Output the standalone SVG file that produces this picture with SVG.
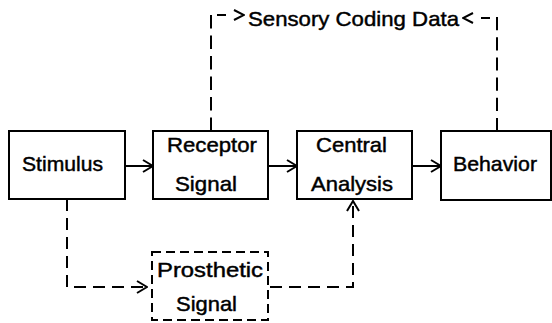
<svg xmlns="http://www.w3.org/2000/svg" width="552" height="323" viewBox="0 0 552 323">
  <style>
    .box { fill: #fff; stroke: #000; stroke-width: 2; }
    .dashbox { fill: #fff; stroke: #000; stroke-width: 2; stroke-dasharray: 9 5; }
    .lbl { font-family: "Liberation Sans", Arial, sans-serif; font-size: 21px; fill: #000; stroke: #000; stroke-width: 0.45; }
    .conn { fill: none; stroke: #000; stroke-width: 2; }
    .dash { stroke-dasharray: 12 7; }
    .stub { stroke-dasharray: 9 40; }
    .head { fill: none; stroke: #000; stroke-width: 2; stroke-dasharray: none; }
  </style>
  <defs>
    <marker id="arrow" viewBox="0 0 12 14" refX="11" refY="7" markerWidth="12" markerHeight="14" markerUnits="userSpaceOnUse" orient="auto">
      <path class="head" d="M1,1 L11,7 L1,13"/>
    </marker>
    <marker id="arrow-small" viewBox="0 0 12 12" refX="11" refY="6" markerWidth="12" markerHeight="12" markerUnits="userSpaceOnUse" orient="auto">
      <path class="head" d="M1,1 L11,6 L1,11"/>
    </marker>
  </defs>
  <rect width="552" height="323" fill="#fff"/>

  <!-- connectors -->
  <g id="connectors">
    <path class="conn" d="M125,166 H153" marker-end="url(#arrow)"/>
    <path class="conn" d="M268,166 H297" marker-end="url(#arrow)"/>
    <path class="conn" d="M412,166 H441" marker-end="url(#arrow)"/>
    <path class="conn dash" d="M67,199 V287 H147" marker-end="url(#arrow)"/>
    <path class="conn dash" d="M270,287 H353 V201" marker-end="url(#arrow)"/>
    <!-- receptor up to the sensory coding data label (dashes sized to meet both ends) -->
    <path class="conn" style="stroke-dasharray: 13.5 7" d="M211,15 V131"/>
    <path class="conn stub" d="M217,15 H244" marker-end="url(#arrow-small)"/>
    <!-- behavior up to the sensory coding data label -->
    <path class="conn" style="stroke-dasharray: 13.2 7" d="M497,17 V131"/>
    <path class="conn stub" d="M490,18 H463" marker-end="url(#arrow-small)"/>
  </g>

  <g id="stimulus">
    <rect class="box" x="9" y="131" width="116" height="68"/>
    <text class="lbl" x="22" y="171" textLength="81" lengthAdjust="spacingAndGlyphs">Stimulus</text>
  </g>

  <g id="receptor-signal">
    <rect class="box" x="153" y="131" width="115" height="68"/>
    <text class="lbl" x="167" y="152" textLength="90" lengthAdjust="spacingAndGlyphs">Receptor</text>
    <text class="lbl" x="175" y="191" textLength="62" lengthAdjust="spacingAndGlyphs">Signal</text>
  </g>

  <g id="central-analysis">
    <rect class="box" x="297" y="131" width="115" height="68"/>
    <text class="lbl" x="316" y="152" textLength="71" lengthAdjust="spacingAndGlyphs">Central</text>
    <text class="lbl" x="311" y="191" textLength="82" lengthAdjust="spacingAndGlyphs">Analysis</text>
  </g>

  <g id="behavior">
    <rect class="box" x="441" y="131" width="110" height="69"/>
    <text class="lbl" x="453" y="171" textLength="84" lengthAdjust="spacingAndGlyphs">Behavior</text>
  </g>

  <g id="prosthetic-signal">
    <rect class="dashbox" x="152" y="252" width="116" height="68"/>
    <text class="lbl" x="157" y="277" textLength="106" lengthAdjust="spacingAndGlyphs">Prosthetic</text>
    <text class="lbl" x="176" y="311" textLength="61" lengthAdjust="spacingAndGlyphs">Signal</text>
  </g>

  <g id="sensory-coding-data">
    <text class="lbl" x="248" y="26" textLength="211" lengthAdjust="spacingAndGlyphs">Sensory Coding Data</text>
  </g>
</svg>
